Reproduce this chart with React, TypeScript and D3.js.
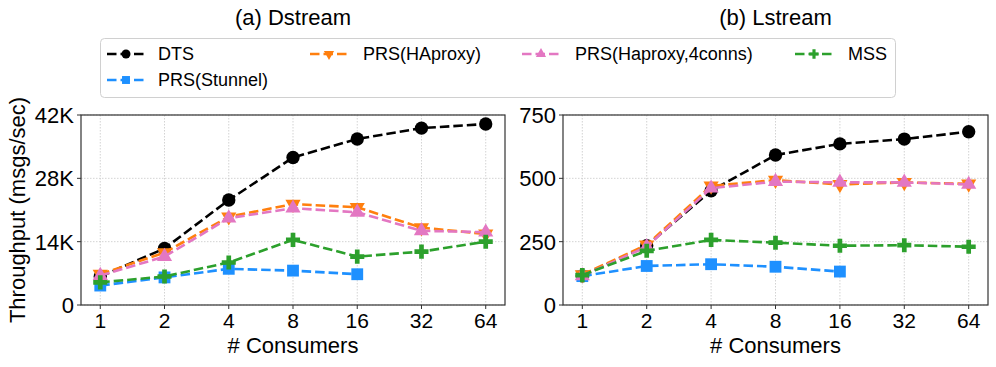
import React, { useRef, useEffect } from 'react';
import * as d3 from 'd3';

const consumers = ['1', '2', '4', '8', '16', '32', '64'];

// Dstream throughput, K msgs/sec
const dDTS = [6.3, 12.5, 23.2, 32.6, 36.7, 39.1, 40.0];
const dStunnel = [4.3, 6.1, 8.0, 7.6, 6.8];
const dHAproxy = [6.8, 11.6, 19.5, 22.3, 21.6, 17.1, 15.7];
const dHaproxy4 = [6.5, 10.7, 19.2, 21.4, 20.5, 16.4, 16.1];
const dMSS = [5.0, 6.3, 9.4, 14.4, 10.7, 11.8, 14.0];

// Lstream throughput, msgs/sec
const lDTS = [115, 234, 451, 592, 636, 655, 684];
const lStunnel = [114, 154, 161, 151, 132];
const lHAproxy = [120, 237, 470, 493, 476, 484, 478];
const lHaproxy4 = [115, 230, 461, 487, 484, 484, 476];
const lMSS = [118, 214, 257, 246, 234, 236, 230];

const dTicks = [0, 14, 28, 42];
const dTickLabels = ['0', '14K', '28K', '42K'];
const lTicks = [0, 250, 500, 750];
const lTickLabels = ['0', '250', '500', '750'];

const seriesNames = ['DTS', 'PRS(Stunnel)', 'PRS(HAproxy)', 'PRS(Haproxy,4conns)', 'MSS'];
const seriesColors = ['#000000', '#1E90FF', '#ff7f0e', '#e377c2', '#2ca02c'];
const seriesMarkers = ['circle', 'square', 'triDown', 'triUp', 'plus'];

const FONT = '"Liberation Sans", Arial, sans-serif';

const markerPath = (kind: string, scale: number) => {
  if (kind === 'circle') return d3.symbol(d3.symbolCircle, 140 * scale)();
  if (kind === 'square') return d3.symbol(d3.symbolSquare, 140 * scale)();
  if (kind === 'plus') return d3.symbol(d3.symbolCross, 110 * scale)();
  return d3.symbol(d3.symbolTriangle, 100 * scale)();
};

const App = () => {
  const svgRef = useRef<SVGSVGElement>(null);

  useEffect(() => {
    const svg = d3.select(svgRef.current);
    svg.selectAll('*').remove();

    const panels = [
      { title: '(a) Dstream', x0: 81, x1: 505, max: 42, ticks: dTicks, labels: dTickLabels,
        data: [dDTS, dStunnel, dHAproxy, dHaproxy4, dMSS] },
      { title: '(b) Lstream', x0: 563, x1: 988, max: 750, ticks: lTicks, labels: lTickLabels,
        data: [lDTS, lStunnel, lHAproxy, lHaproxy4, lMSS] },
    ];
    const top = 115;
    const bottom = 305;

    panels.forEach(p => {
      const x = d3.scaleLinear().domain([-0.3, consumers.length - 0.7]).range([p.x0, p.x1]);
      const y = d3.scaleLinear().domain([0, p.max]).range([bottom, top]);
      const g = svg.append('g');

      // grid
      g.selectAll('line.vg').data(consumers).enter().append('line')
        .attr('x1', (_, i) => x(i)).attr('x2', (_, i) => x(i))
        .attr('y1', top).attr('y2', bottom)
        .attr('stroke', '#c8c8c8').attr('stroke-width', 0.8).attr('stroke-dasharray', '1.5,1.5');
      g.selectAll('line.hg').data(p.ticks).enter().append('line')
        .attr('x1', p.x0).attr('x2', p.x1)
        .attr('y1', d => y(d)).attr('y2', d => y(d))
        .attr('stroke', '#c8c8c8').attr('stroke-width', 0.8).attr('stroke-dasharray', '1.5,1.5');

      // lines + markers
      p.data.forEach((vals, si) => {
        const line = d3.line<number>().x((_, i) => x(i)).y(d => y(d));
        g.append('path')
          .attr('d', line(vals))
          .attr('fill', 'none')
          .attr('stroke', seriesColors[si])
          .attr('stroke-width', 2.6)
          .attr('stroke-dasharray', '9.5,4');
        g.selectAll(`path.m${si}`).data(vals).enter().append('path')
          .attr('d', markerPath(seriesMarkers[si], 1))
          .attr('transform', (d, i) => `translate(${x(i)},${y(d)})${seriesMarkers[si] === 'triDown' ? ' rotate(180)' : ''}`)
          .attr('fill', seriesColors[si]);
      });

      // frame
      g.append('rect')
        .attr('x', p.x0).attr('y', top).attr('width', p.x1 - p.x0).attr('height', bottom - top)
        .attr('fill', 'none').attr('stroke', '#333').attr('stroke-width', 1.2);

      // ticks
      g.selectAll('line.xt').data(consumers).enter().append('line')
        .attr('x1', (_, i) => x(i)).attr('x2', (_, i) => x(i))
        .attr('y1', bottom).attr('y2', bottom + 4)
        .attr('stroke', '#333');
      g.selectAll('text.xt').data(consumers).enter().append('text')
        .attr('x', (_, i) => x(i)).attr('y', bottom + 23)
        .attr('text-anchor', 'middle')
        .style('font-family', FONT).style('font-size', '21px')
        .text(d => d);
      g.selectAll('line.yt').data(p.ticks).enter().append('line')
        .attr('x1', p.x0 - 4).attr('x2', p.x0)
        .attr('y1', d => y(d)).attr('y2', d => y(d))
        .attr('stroke', '#333');
      g.selectAll('text.yt').data(p.ticks).enter().append('text')
        .attr('x', p.x0 - 7).attr('y', d => y(d)).attr('dy', '0.36em')
        .attr('text-anchor', 'end')
        .style('font-family', FONT).style('font-size', '22px')
        .text((_, i) => p.labels[i]);

      const cx = (p.x0 + p.x1) / 2;
      g.append('text')
        .attr('x', cx).attr('y', 353)
        .attr('text-anchor', 'middle')
        .style('font-family', FONT).style('font-size', '22px')
        .text('# Consumers');
      g.append('text')
        .attr('x', cx).attr('y', 25)
        .attr('text-anchor', 'middle')
        .style('font-family', FONT).style('font-size', '22px')
        .text(p.title);
    });

    svg.append('text')
      .attr('transform', `translate(25,${(top + bottom) / 2}) rotate(-90)`)
      .attr('text-anchor', 'middle')
      .style('font-family', FONT).style('font-size', '22px')
      .text('Throughput (msgs/sec)');

    // legend
    const lg = svg.append('g');
    lg.append('rect')
      .attr('x', 100.5).attr('y', 38.5).attr('width', 795).attr('height', 59).attr('rx', 4)
      .attr('fill', 'white').attr('stroke', '#d0d0d0').attr('stroke-width', 1);
    const legendPos = [
      { hx: 107, tx: 158, ty: 60 },
      { hx: 107, tx: 158, ty: 86 },
      { hx: 310, tx: 363, ty: 60 },
      { hx: 522, tx: 575, ty: 60 },
      { hx: 795, tx: 848, ty: 60 },
    ];
    seriesNames.forEach((name, si) => {
      const pos = legendPos[si];
      const ly = pos.ty - 6;
      lg.append('line')
        .attr('x1', pos.hx).attr('x2', pos.hx + 38)
        .attr('y1', ly).attr('y2', ly)
        .attr('stroke', seriesColors[si]).attr('stroke-width', 2.6)
        .attr('stroke-dasharray', '9.5,4');
      lg.append('path')
        .attr('d', markerPath(seriesMarkers[si], 0.45))
        .attr('transform', `translate(${pos.hx + 19},${ly})${seriesMarkers[si] === 'triDown' ? ' rotate(180)' : ''}`)
        .attr('fill', seriesColors[si]);
      lg.append('text')
        .attr('x', pos.tx).attr('y', pos.ty)
        .style('font-family', FONT).style('font-size', '18px')
        .text(name);
    });
  }, []);

  return (
    <svg ref={svgRef} width={996} height={367}
      style={{ position: 'absolute', left: 0, top: 0, background: 'white' }} />
  );
};

export default App;
